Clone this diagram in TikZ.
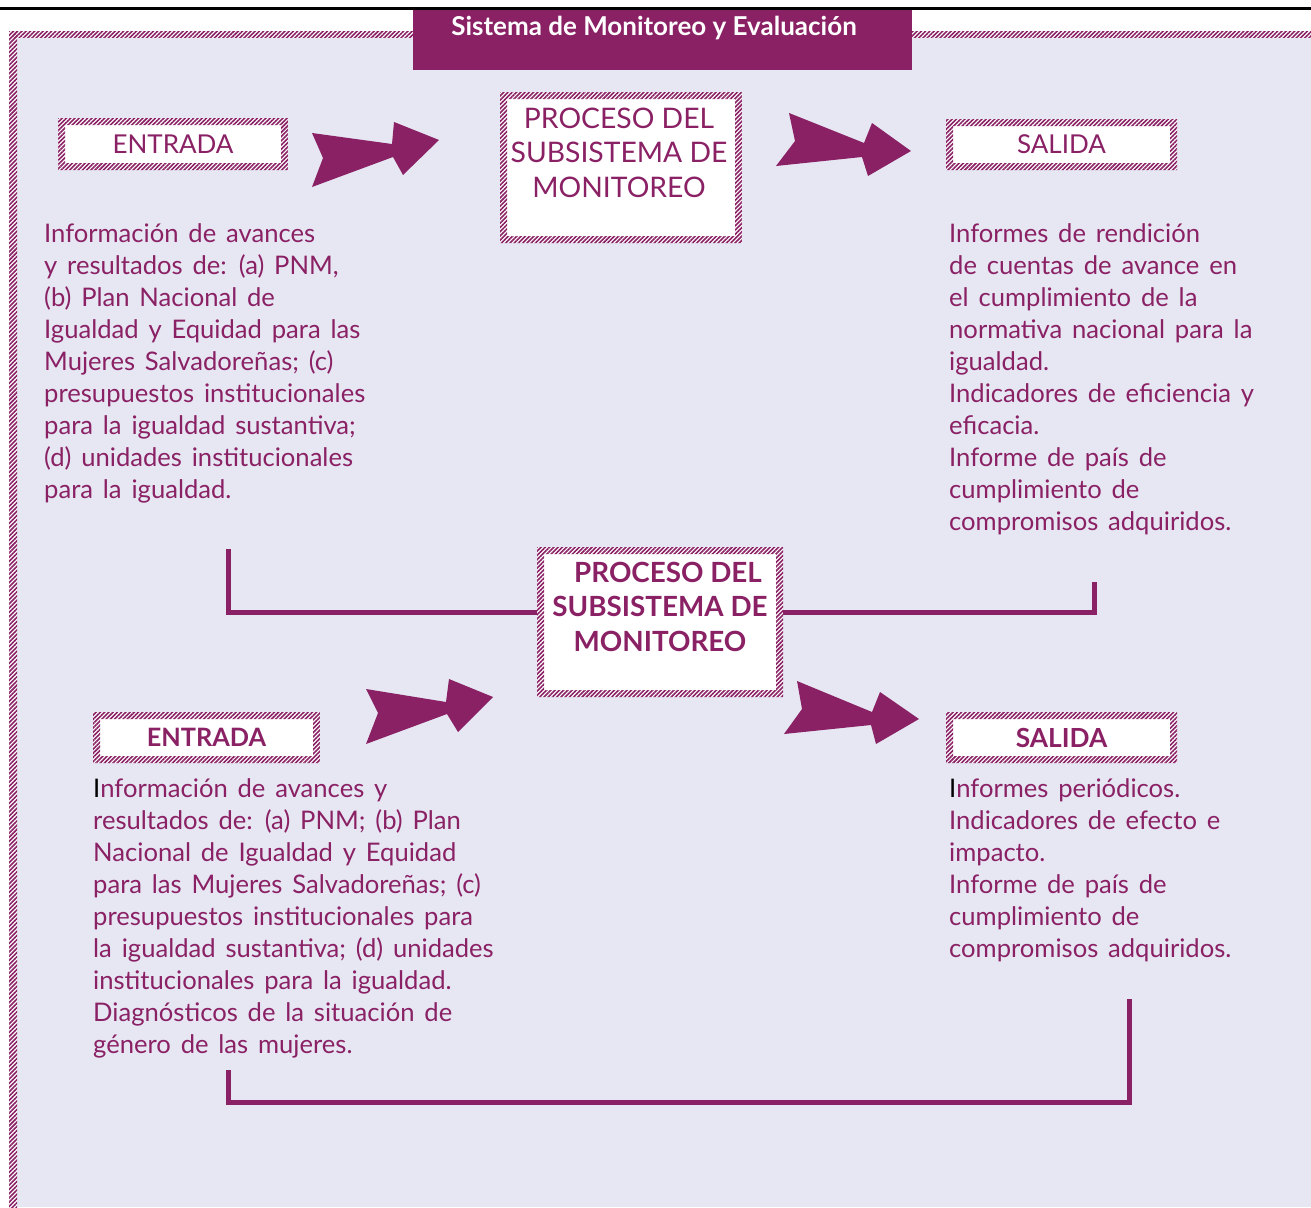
\documentclass[tikz,border=0pt]{standalone}
\usepackage{fontspec}
\setmainfont{Lato}
\newfontfamily\bodyfont[WordSpace=1.5]{Lato}
\usetikzlibrary{patterns.meta}
\definecolor{mag}{HTML}{8A2165}
\definecolor{lav}{HTML}{E7E7F3}
\begin{document}
\begin{tikzpicture}[x=1pt,y=-1pt,
  hatch/.style={pattern={Lines[angle=45,distance=3pt,line width=1.6pt]},pattern color=mag},
  hbox/.style={fill=white, inner sep=0pt, text=mag, align=center,
    path picture={\fill[hatch,even odd rule]
      (path picture bounding box.south west) rectangle (path picture bounding box.north east)
      ([shift={(7,-7)}]path picture bounding box.south west) rectangle ([shift={(-7,7)}]path picture bounding box.north east);}},
  body/.style={anchor=north west, inner sep=0pt, align=left, text=mag, font=\bodyfont\fontsize{25.6}{32}\selectfont},
  conn/.style={draw=mag, line width=5pt},
  arrowshape/.style={fill=mag}
]
\useasboundingbox (0,0) rectangle (1311,1207);
% background
\fill[white] (0,0) rectangle (1311,1207);
\fill[lav] (17,38) rectangle (1311,1207);
\fill[hatch] (13,32) rectangle (413,38);
\fill[hatch] (912,32) rectangle (1311,38);
\fill[hatch] (9,32) rectangle (17,1207);
\fill[black] (0,7) rectangle (1311,10);

% title
\node[fill=mag, minimum width=499pt, minimum height=60pt, inner sep=0pt] (title) at (662.5,40) {};
\node[text=white, anchor=base, inner sep=0pt, font=\fontsize{26}{28}\selectfont\bfseries] (titletext) at (654,36) {Sistema de Monitoreo y Evaluación};

% top row boxes
\node[hbox, minimum width=230pt, minimum height=52pt, font=\fontsize{26}{28}\selectfont] (e1) at (173,144) {ENTRADA};
\node[hbox, minimum width=242pt, minimum height=151pt] (p1) at (621,167.5) {};
\node[text=mag, align=center, inner sep=0pt, anchor=north, font=\fontsize{28.3}{34.5}\selectfont] (p1t) at (619,107.5) {PROCESO DEL\\SUBSISTEMA DE\\MONITOREO};
\node[hbox, minimum width=231pt, minimum height=51pt, font=\fontsize{26}{28}\selectfont] (s1) at (1061.5,144.5) {SALIDA};

% top arrows
\fill[arrowshape] (312,133) -- (392,144) -- (394,122) -- (439,140) -- (403,175) -- (393,157) -- (312,187) -- (323,158) -- cycle;
\fill[arrowshape] (789,113) -- (864,143) -- (872,123) -- (911,151) -- (868,176) -- (862,157) -- (776,166) -- (795,141) -- cycle;

% top texts
\node[body] (t1) at (44,223) {Información de avances\\y resultados de: (a) PNM,\\(b) Plan Nacional de\\Igualdad y Equidad para las\\Mujeres Salvadoreñas; (c)\\presupuestos institucionales\\para la igualdad sustantiva;\\(d) unidades institucionales\\para la igualdad.};
\node[body] (t2) at (949,223) {Informes de rendición\\de cuentas de avance en\\el cumplimiento de la\\normativa nacional para la\\igualdad.\\Indicadores de eficiencia y\\eficacia.\\Informe de país de\\cumplimiento de\\compromisos adquiridos.};

% central box
\node[hbox, minimum width=246pt, minimum height=150pt] (p2) at (660,622) {};
\node[text=mag, align=center, inner sep=0pt, anchor=north, font=\fontsize{27.8}{34.5}\selectfont\bfseries] (p2t) at (660,561.5) {\hspace*{16pt}PROCESO DEL\\SUBSISTEMA DE\\MONITOREO};

% upper connectors
\coordinate (ca) at (228,549);
\coordinate (cb) at (1094,582);
\coordinate (ja) at (p2.west |- 0,612);
\coordinate (jb) at (p2.east |- 0,612);
\draw[conn] (ca) |- (ja);
\draw[conn] (cb) |- (jb);

% bottom row
\node[hbox, minimum width=227pt, minimum height=51pt, font=\fontsize{25.3}{28}\selectfont\bfseries] (e2) at (206.5,737.5) {ENTRADA};
\node[hbox, minimum width=231pt, minimum height=51pt, font=\fontsize{26.3}{28}\selectfont\bfseries] (s2) at (1061.5,737.5) {SALIDA};

\fill[arrowshape] (366,689) -- (446,702) -- (449,679) -- (493,697) -- (458,732) -- (447,714) -- (366,744) -- (378,713) -- cycle;
\fill[arrowshape] (797,681) -- (872,712) -- (880,692) -- (919,719) -- (876,744) -- (871,725) -- (784,734) -- (802,709) -- cycle;

\node[body] (t3) at (93,778) {{\color{black}I}nformación de avances y\\resultados de: (a) PNM; (b) Plan\\Nacional de Igualdad y Equidad\\para las Mujeres Salvadoreñas; (c)\\presupuestos institucionales para\\la igualdad sustantiva; (d) unidades\\institucionales para la igualdad.\\Diagnósticos de la situación de\\género de las mujeres.};
\node[body] (t4) at (949,778) {{\color{black}I}nformes periódicos.\\Indicadores de efecto e\\impacto.\\Informe de país de\\cumplimiento de\\compromisos adquiridos.};

% bottom connector
\coordinate (cc) at (228,1070);
\coordinate (cd) at (1129,999);
\draw[conn] (cc) |- (cd |- 0,1102) -- (cd);
\end{tikzpicture}
\end{document}
